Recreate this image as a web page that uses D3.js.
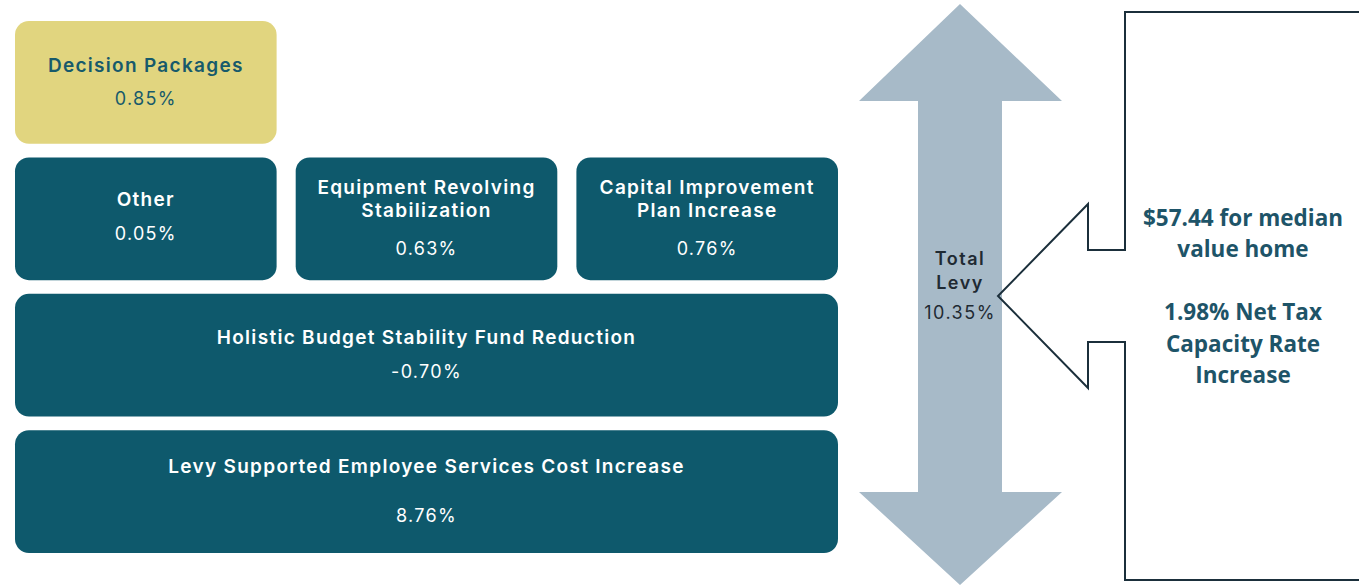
<!DOCTYPE html>
<html>
<head>
<meta charset="utf-8">
<script src="https://cdn.jsdelivr.net/npm/d3@7"></script>
<style>
  body { margin: 0; background: #fff; }
  svg { display: block; }
</style>
</head>
<body>
<div id="chart"></div>
<script>
// levy components, shown as tiles
const categories = [
    "Decision Packages",
    "Other",
    "Equipment Revolving\nStabilization",
    "Capital Improvement\nPlan Increase",
    "Holistic Budget Stability Fund Reduction",
    "Levy Supported Employee Services Cost Increase"
];
const values = [0.85, 0.05, 0.63, 0.76, -0.70, 8.76];
const totalLabel = "Total\nLevy";
const totalValue = 10.35;
const calloutLines = ["$57.44 for median", "value home", "", "1.98% Net Tax", "Capacity Rate", "Increase"];

// grid slot for each tile: row, first column, column span
const tileGrid = [[0, 0, 1], [1, 0, 1], [1, 1, 1], [1, 2, 1], [2, 0, 3], [3, 0, 3]];

let width = 1359,
    height = 587,
    svg = d3.select("#chart").append("svg")
        .attr("width", width)
        .attr("height", height),
    font = "Inter, 'Open Sans', sans-serif";

let row = d3.scaleBand().domain(d3.range(4)).range([21, 553]).paddingInner(0.1),
    col = d3.scaleBand().domain(d3.range(3)).range([15, 838]).paddingInner(0.068),
    fmt = v => v.toFixed(2) + "%";

let tiles = categories.map((c, i) => ({
    label: c.split("\n"),
    value: values[i],
    r: tileGrid[i][0],
    c: tileGrid[i][1],
    span: tileGrid[i][2],
    highlight: i === 0
}));

let g = svg.selectAll("g.tile")
    .data(tiles)
    .enter().append("g")
    .attr("class", "tile")
    .attr("transform", d => "translate(" + col(d.c) + "," + row(d.r) + ")");

g.append("rect")
    .attr("width", d => col(d.c + d.span - 1) + col.bandwidth() - col(d.c))
    .attr("height", row.bandwidth())
    .attr("rx", 14)
    .style("fill", d => d.highlight ? "#e1d57f" : "#0e596c");

g.each(function (d) {
    let t = d3.select(this),
        w = col(d.c + d.span - 1) + col.bandwidth() - col(d.c),
        color = d.highlight ? "#175a6b" : "#ffffff",
        n = d.label.length,
        top = n > 1 ? 30 : (d.r === 3 ? 36 : (d.r === 1 ? 42 : 44)),
        gap = d.r === 3 ? 49 : (n > 1 ? 38 : 34);

    d.label.forEach((line, k) => {
        t.append("text")
            .attr("x", w / 2)
            .attr("y", top + k * 23)
            .attr("dy", "0.35em")
            .attr("text-anchor", "middle")
            .style("font-family", font)
            .style("font-weight", 600)
            .style("font-size", "19px")
            .style("letter-spacing", "1.3px")
            .style("fill", color)
            .text(line);
    });

    t.append("text")
        .attr("x", w / 2)
        .attr("y", top + (n - 1) * 23 + gap)
        .attr("dy", "0.35em")
        .attr("text-anchor", "middle")
        .style("font-family", font)
        .style("font-weight", 400)
        .style("font-size", "18px")
        .style("letter-spacing", "1.3px")
        .style("fill", color)
        .text(fmt(d.value));
});

// double headed arrow for total levy
let ax = 960,
    arrow = [[ax, 4], [1062, 101], [1002, 101], [1002, 492], [1062, 492], [ax, 585],
        [859, 492], [918, 492], [918, 101], [859, 101]];

svg.append("path")
    .attr("d", d3.line()(arrow) + "Z")
    .style("fill", "#a7bac8");

totalLabel.split("\n").forEach((line, k) => {
    svg.append("text")
        .attr("x", ax)
        .attr("y", 259 + k * 24)
        .attr("dy", "0.35em")
        .attr("text-anchor", "middle")
        .style("font-family", font)
        .style("font-weight", 600)
        .style("font-size", "18px")
        .style("letter-spacing", "1.5px")
        .style("fill", "#1f2a33")
        .text(line);
});
svg.append("text")
    .attr("x", ax)
    .attr("y", 313)
    .attr("dy", "0.35em")
    .attr("text-anchor", "middle")
    .style("font-family", font)
    .style("font-size", "18px")
    .style("letter-spacing", "1.5px")
    .style("fill", "#1f2a33")
    .text(fmt(totalValue));

// callout box pointing at the arrow
let callout = [[1375, 12], [1125, 12], [1125, 250], [1088, 250], [1088, 204], [998, 296],
    [1088, 388], [1088, 342], [1125, 342], [1125, 580], [1375, 580]];

svg.append("path")
    .attr("d", d3.line()(callout))
    .style("fill", "none")
    .style("stroke", "#1b2f3b")
    .style("stroke-width", "2px");

calloutLines.forEach((line, k) => {
    svg.append("text")
        .attr("x", 1243)
        .attr("y", 218 + k * 31.5)
        .attr("dy", "0.35em")
        .attr("text-anchor", "middle")
        .style("font-family", "'Open Sans', sans-serif")
        .style("font-weight", 700)
        .style("font-size", "22.5px")
        .style("fill", "#1e5468")
        .text(line);
});
</script>
</body>
</html>
